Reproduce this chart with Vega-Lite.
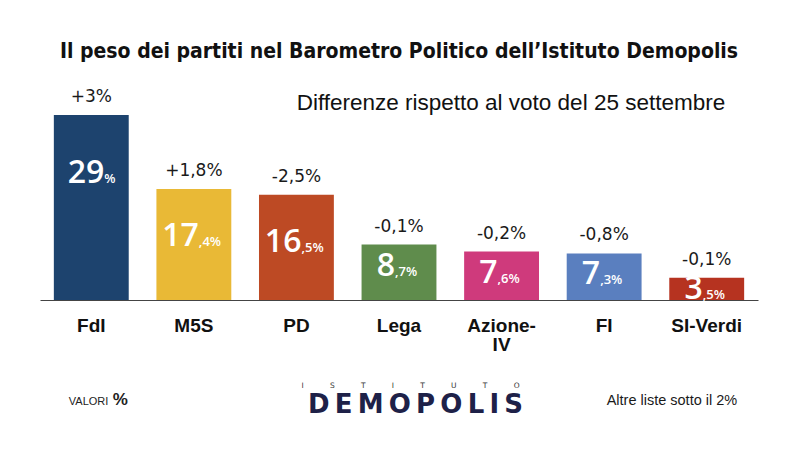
{
  "$schema": "https://vega.github.io/schema/vega-lite/v6.json",
  "width": 718,
  "height": 185,
  "autosize": {"type": "none"},
  "padding": {"left": 40, "top": 115, "right": 42, "bottom": 156},
  "background": "#ffffff",
  "config": {"view": {"stroke": null}},
  "title": {
    "text": "Il peso dei partiti nel Barometro Politico dell’Istituto Demopolis",
    "anchor": "middle",
    "frame": "group",
    "font": "DejaVu Sans Condensed, sans-serif",
    "fontWeight": "bold",
    "fontSize": 21,
    "color": "#111111",
    "offset": 26
  },
  "data": {
    "values": [
      {"party": "FdI", "value": 29, "main": "29", "dec": "%", "delta": "+3%"},
      {"party": "M5S", "value": 17.4, "main": "17", "dec": ",4%", "delta": "+1,8%"},
      {"party": "PD", "value": 16.5, "main": "16", "dec": ",5%", "delta": "-2,5%"},
      {"party": "Lega", "value": 8.7, "main": "8", "dec": ",7%", "delta": "-0,1%"},
      {"party": "Azione-IV", "value": 7.6, "main": "7", "dec": ",6%", "delta": "-0,2%"},
      {"party": "FI", "value": 7.3, "main": "7", "dec": ",3%", "delta": "-0,8%"},
      {"party": "SI-Verdi", "value": 3.5, "main": "3", "dec": ",5%", "delta": "-0,1%"}
    ]
  },
  "encoding": {
    "x": {
      "field": "party",
      "type": "nominal",
      "sort": null,
      "scale": {"domain": ["FdI", "M5S", "PD", "Lega", "Azione-IV", "FI", "SI-Verdi"], "paddingInner": 0.27, "paddingOuter": 0.135},
      "axis": {
        "title": null,
        "labelAngle": 0,
        "labelFont": "Liberation Sans",
        "labelFontWeight": "bold",
        "labelFontSize": 19,
        "labelColor": "#111111",
        "labelPadding": 16,
        "labelLineHeight": 19,
        "ticks": false,
        "domainColor": "#444444",
        "domainWidth": 1,
        "labelExpr": "datum.label == 'Azione-IV' ? ['Azione-', 'IV'] : datum.label"
      }
    },
    "y": {
      "field": "value",
      "type": "quantitative",
      "scale": {"domain": [0, 29], "nice": false, "zero": true},
      "axis": null
    }
  },
  "layer": [
    {
      "mark": {"type": "bar", "width": {"band": 1}},
      "encoding": {
        "color": {
          "field": "party",
          "type": "nominal",
          "sort": null,
          "scale": {
            "domain": ["FdI", "M5S", "PD", "Lega", "Azione-IV", "FI", "SI-Verdi"],
            "range": ["#1d436e", "#e9b936", "#bd4a24", "#5f8c4c", "#cf3a7c", "#5a7fbf", "#b63320"]
          },
          "legend": null
        }
      }
    },
    {
      "mark": {"type": "text", "baseline": "alphabetic", "dy": -13, "font": "DejaVu Sans", "fontSize": 17, "color": "#1a1a1a"},
      "encoding": {"text": {"field": "delta"}}
    },
    {
      "transform": [{"filter": "datum.value > 20"}],
      "mark": {"type": "text", "align": "right", "baseline": "alphabetic", "dx": 13, "dy": 68, "font": "Open Sans", "fontWeight": 600, "fontSize": 32, "color": "#ffffff"},
      "encoding": {"text": {"field": "main"}}
    },
    {
      "transform": [{"filter": "datum.value > 20"}],
      "mark": {"type": "text", "align": "left", "baseline": "alphabetic", "dx": 13, "dy": 68, "font": "Open Sans", "fontWeight": 600, "fontSize": 13, "color": "#ffffff"},
      "encoding": {"text": {"field": "dec"}}
    },
    {
      "transform": [{"filter": "datum.value > 10 && datum.value <= 20"}],
      "mark": {"type": "text", "align": "right", "baseline": "alphabetic", "dx": 5, "dy": 57, "font": "Open Sans", "fontWeight": 600, "fontSize": 32, "color": "#ffffff"},
      "encoding": {"text": {"field": "main"}}
    },
    {
      "transform": [{"filter": "datum.value > 10 && datum.value <= 20"}],
      "mark": {"type": "text", "align": "left", "baseline": "alphabetic", "dx": 5, "dy": 57, "font": "Open Sans", "fontWeight": 600, "fontSize": 13, "color": "#ffffff"},
      "encoding": {"text": {"field": "dec"}}
    },
    {
      "transform": [{"filter": "datum.value > 5 && datum.value <= 10"}],
      "mark": {"type": "text", "align": "right", "baseline": "alphabetic", "dx": -4, "dy": 31, "font": "Open Sans", "fontWeight": 600, "fontSize": 32, "color": "#ffffff"},
      "encoding": {"text": {"field": "main"}}
    },
    {
      "transform": [{"filter": "datum.value > 5 && datum.value <= 10"}],
      "mark": {"type": "text", "align": "left", "baseline": "alphabetic", "dx": -4, "dy": 31, "font": "Open Sans", "fontWeight": 600, "fontSize": 13, "color": "#ffffff"},
      "encoding": {"text": {"field": "dec"}}
    },
    {
      "transform": [{"filter": "datum.value <= 5"}],
      "mark": {"type": "text", "align": "right", "baseline": "alphabetic", "dx": -4, "dy": 21, "font": "Open Sans", "fontWeight": 600, "fontSize": 32, "color": "#ffffff"},
      "encoding": {"text": {"field": "main"}}
    },
    {
      "transform": [{"filter": "datum.value <= 5"}],
      "mark": {"type": "text", "align": "left", "baseline": "alphabetic", "dx": -4, "dy": 21, "font": "Open Sans", "fontWeight": 600, "fontSize": 13, "color": "#ffffff"},
      "encoding": {"text": {"field": "dec"}}
    },
    {
      "transform": [{"filter": "datum.party == 'SI-Verdi'"}],
      "mark": {"type": "text", "text": "Differenze rispetto al voto del 25 settembre", "align": "right", "baseline": "alphabetic", "dx": 18.5, "font": "Liberation Sans", "fontSize": 22.5, "color": "#111111"},
      "encoding": {"y": {"datum": 29.79}}
    },
    {
      "transform": [{"filter": "datum.party == 'FdI'"}],
      "mark": {"type": "text", "text": "VALORI", "align": "left", "baseline": "alphabetic", "dx": -22.5, "font": "Liberation Sans", "fontSize": 11, "color": "#222222"},
      "encoding": {"y": {"datum": -16.46}}
    },
    {
      "transform": [{"filter": "datum.party == 'FdI'"}],
      "mark": {"type": "text", "text": "%", "align": "left", "baseline": "alphabetic", "dx": 21.5, "font": "Liberation Sans", "fontWeight": "bold", "fontSize": 17, "color": "#222222"},
      "encoding": {"y": {"datum": -16.46}}
    },
    {
      "transform": [{"filter": "datum.party == 'SI-Verdi'"}],
      "mark": {"type": "text", "text": "Altre liste sotto il 2%", "align": "right", "baseline": "alphabetic", "dx": 30.5, "font": "Liberation Sans", "fontSize": 14.5, "color": "#1a1a1a"},
      "encoding": {"y": {"datum": -16.46}}
    },
    {
      "transform": [{"filter": "datum.party == 'Lega'"}],
      "mark": {"type": "text", "text": "I\u2003\u2003\u2003\u2002S\u2003\u2003\u2003\u2002T\u2003\u2003\u2003\u2002I\u2003\u2003\u2003\u2002T\u2003\u2003\u2003\u2002U\u2003\u2003\u2003\u2002T\u2003\u2003\u2003\u2002O", "align": "center", "baseline": "alphabetic", "dx": 11.5, "font": "DejaVu Sans", "fontSize": 7.5, "color": "#333333"},
      "encoding": {"y": {"datum": -13.8}}
    },
    {
      "transform": [{"filter": "datum.party == 'Lega'"}],
      "mark": {"type": "text", "text": "D\u2009E\u2009M\u2009O\u2009P\u2009O\u2009L\u2009I\u2009S", "align": "center", "baseline": "alphabetic", "dx": 16.5, "font": "DejaVu Sans", "fontWeight": "bold", "fontSize": 26, "color": "#1e2148"},
      "encoding": {"y": {"datum": -17.71}}
    }
  ]
}
